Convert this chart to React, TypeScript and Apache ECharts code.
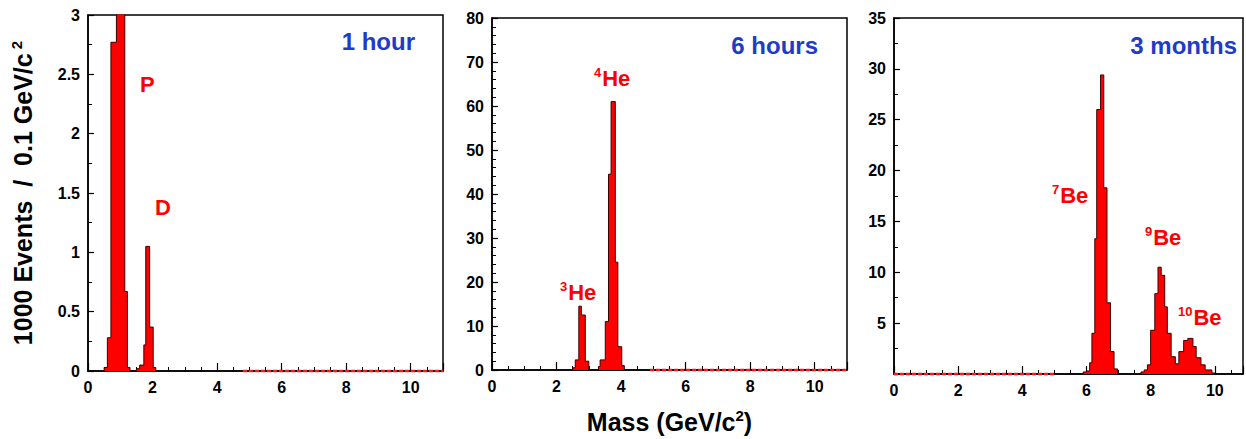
import React, { useEffect, useRef } from "react";
import * as echarts from "echarts";

const FONT = "'Liberation Sans', Arial, Helvetica, sans-serif";

// Panel 1 (1 hour): p, D
const p1Edges = [0.5, 0.6, 0.71, 0.88, 1.14, 1.22, 1.3, 1.5, 1.6, 1.73, 1.79, 1.91, 2.02, 2.1];
const p1Counts = [0.03, 0.28, 2.77, 3.5, 0.67, 0.03, 0, 0.02, 0.05, 0.22, 1.05, 0.37, 0.03];
const p1RedBase = [[4.8, 0], [11, 0]];

// Panel 2 (6 hours): 3He, 4He
const p2Edges = [2.5, 2.58, 2.69, 2.77, 2.89, 3.0, 3.3, 3.35, 3.51, 3.61, 3.69, 3.82, 3.9, 4.02, 4.1];
const p2Counts = [0.5, 2.3, 14.5, 12.5, 2, 0, 0.8, 2.3, 11, 44.5, 61, 24.5, 5.3, 1];
const p2RedBase = [[4.9, 0], [11, 0]];

// Panel 3 (3 months): 7Be, 9Be, 10Be
const p3Edges = [5.9, 6.0, 6.1, 6.17, 6.26, 6.32, 6.44, 6.54, 6.64, 6.75, 6.86, 6.97, 7.7, 7.8, 7.9, 8.0, 8.13, 8.23, 8.33, 8.44, 8.52, 8.64, 8.77, 8.88, 9.03, 9.16, 9.32, 9.42, 9.57, 9.7, 9.91, 10.0];
const p3Counts = [0.2, 0.3, 1.1, 4, 13.3, 26, 29.4, 18.3, 7, 2.2, 0.5, 0, 0.2, 0.4, 0.9, 4.3, 7.9, 10.5, 9.7, 6.6, 4, 1.7, 1.0, 2.2, 3.3, 3.5, 2.7, 1.6, 0.9, 0.4, 0.1];
const p3RedBase = [[0, 0], [5, 0]];

const yMax = [3, 80, 35];
const yInterval = [0.5, 10, 5];
const yMinorSplit = [2, 5, 2];
const xMax = [11, 11, 10.88];
const xLabelMax = 10;
const periodLabels = ["1 hour", "6 hours", "3 months"];
const peakLabels = [
  { sup: "", name: "P" },
  { sup: "", name: "D" },
  { sup: "3", name: "He" },
  { sup: "4", name: "He" },
  { sup: "7", name: "Be" },
  { sup: "9", name: "Be" },
  { sup: "10", name: "Be" },
];
const xTitle = "Mass (GeV/c";
const yTitle = "1000 Events  /  0.1 GeV/c";

function hist(edges: number[], counts: number[]) {
  const d: number[][] = [[edges[0], 0]];
  counts.forEach((c, i) => d.push([edges[i], c]));
  d.push([edges[edges.length - 1], 0]);
  return d;
}

const grids = [
  { left: 88, top: 15, width: 355, height: 356 },
  { left: 492, top: 18, width: 355, height: 354 },
  { left: 894, top: 18, width: 351, height: 356 },
];
const periodPos = [
  [415, 41],
  [818, 45],
  [1237, 45],
];
const peakPos = [
  [140, 84],
  [155, 207],
  [560, 292],
  [594, 78],
  [1052, 195],
  [1145, 237],
  [1178, 317],
];

export default function App() {
  const ref = useRef<HTMLDivElement>(null);
  useEffect(() => {
    if (!ref.current) return;
    const chart = echarts.init(ref.current, undefined, { renderer: "svg" });
    const labelStyle = { fontSize: 16, fontWeight: "bold", color: "#000", fontFamily: FONT };
    const xAxes = [0, 1, 2].map((i) => ({
      type: "value",
      gridIndex: i,
      min: 0,
      max: xMax[i],
      interval: 2,
      axisLine: { show: true, onZero: false, lineStyle: { color: "#000", width: 1.5 } },
      axisTick: { show: true, inside: true, length: 8, lineStyle: { color: "#000", width: 1.2 } },
      minorTick: { show: true, splitNumber: 4, length: 4, lineStyle: { color: "#000", width: 1 } },
      splitLine: { show: false },
      axisLabel: { ...labelStyle, margin: 8, formatter: (v: number) => (v > xLabelMax ? "" : String(v)) },
      ...(i === 1
        ? {
            name: `{t|${xTitle}}{s|2}{t|)}`,
            nameLocation: "middle",
            nameGap: 38,
            nameTextStyle: {
              rich: {
                t: { fontSize: 25, fontWeight: "bold", color: "#000", fontFamily: FONT },
                s: { fontSize: 15, fontWeight: "bold", color: "#000", fontFamily: FONT, padding: [0, 0, 12, 0] },
              },
            },
          }
        : {}),
    }));
    const yAxes = [0, 1, 2].map((i) => ({
      type: "value",
      gridIndex: i,
      min: 0,
      max: yMax[i],
      interval: yInterval[i],
      axisLine: { show: true, lineStyle: { color: "#000", width: 1.5 } },
      axisTick: { show: true, inside: true, length: 6, lineStyle: { color: "#000", width: 1.2 } },
      minorTick: { show: true, splitNumber: yMinorSplit[i], length: 4, lineStyle: { color: "#000", width: 1 } },
      splitLine: { show: false },
      axisLabel: {
        ...labelStyle,
        margin: 8,
        formatter: (v: number) => (i === 2 && v === 0 ? "" : String(v)),
      },
      ...(i === 0
        ? {
            name: `{t|${yTitle}}{s| 2}`,
            nameLocation: "middle",
            nameGap: 52,
            nameRotate: 90,
            nameTextStyle: {
              rich: {
                t: { fontSize: 25, fontWeight: "bold", color: "#000", fontFamily: FONT },
                s: { fontSize: 15, fontWeight: "bold", color: "#000", fontFamily: FONT, padding: [0, 0, 12, 0] },
              },
            },
          }
        : {}),
    }));

    const histSeries = (idx: number, edges: number[], counts: number[]) => ({
      type: "line",
      xAxisIndex: idx,
      yAxisIndex: idx,
      step: "end",
      data: hist(edges, counts),
      symbol: "none",
      showSymbol: false,
      clip: true,
      lineStyle: { color: "#3a0000", width: 1 },
      areaStyle: { color: "#ff0000", opacity: 1 },
      z: 3,
    });
    const redBase = (idx: number, data: number[][]) => ({
      type: "line",
      xAxisIndex: idx,
      yAxisIndex: idx,
      data,
      symbol: "none",
      showSymbol: false,
      clip: false,
      lineStyle: { color: "#ff1a1a", width: 2.5, type: [4, 2] },
      z: 4,
    });

    const graphic: any[] = [];
    periodLabels.forEach((t, i) => {
      graphic.push({
        type: "text",
        x: periodPos[i][0],
        y: periodPos[i][1],
        style: {
          text: t,
          fill: "#1e3cc8",
          font: `bold 24px ${FONT}`,
          align: "right",
          verticalAlign: "middle",
          textAlign: "right",
          textVerticalAlign: "middle",
        },
        z: 10,
      });
    });
    peakLabels.forEach((p, i) => {
      graphic.push({
        type: "text",
        x: peakPos[i][0],
        y: peakPos[i][1],
        style: {
          text: p.sup ? `{s|${p.sup}}{t|${p.name}}` : `{t|${p.name}}`,
          rich: {
            t: { fontSize: 22, fontWeight: "bold", fill: "#ff0000", fontFamily: FONT },
            s: { fontSize: 13, fontWeight: "bold", fill: "#ff0000", fontFamily: FONT, padding: [0, 1, 12, 0] },
          },
          align: "left",
          verticalAlign: "middle",
          textAlign: "left",
          textVerticalAlign: "middle",
        },
        z: 10,
      });
    });

    chart.setOption({
      animation: false,
      backgroundColor: "#fff",
      textStyle: { fontFamily: FONT },
      grid: grids.map((g) => ({ ...g, show: true, borderColor: "#000", borderWidth: 1.5, backgroundColor: "transparent" })),
      xAxis: xAxes,
      yAxis: yAxes,
      series: [
        histSeries(0, p1Edges, p1Counts),
        histSeries(1, p2Edges, p2Counts),
        histSeries(2, p3Edges, p3Counts),
        redBase(0, p1RedBase),
        redBase(1, p2RedBase),
        redBase(2, p3RedBase),
      ],
      graphic,
    });
    return () => chart.dispose();
  }, []);
  return (
    <div
      ref={ref}
      style={{ position: "fixed", left: 0, top: 0, width: 1246, height: 439, background: "#fff" }}
    />
  );
}
